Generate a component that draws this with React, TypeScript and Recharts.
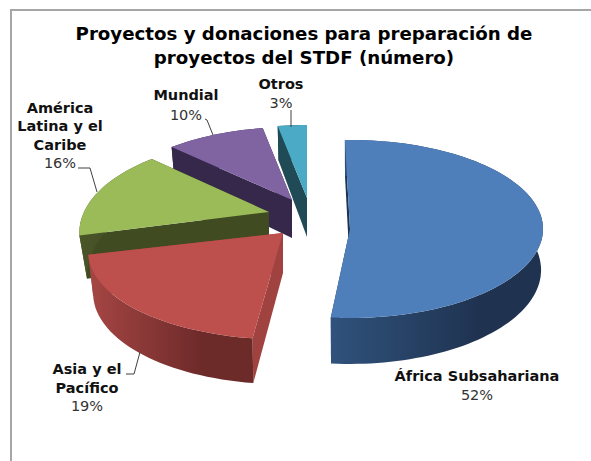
import { PieChart, Pie } from "recharts";

const WIDTH = 591;
const HEIGHT = 461;
const FONT = "'DejaVu Sans', Verdana, sans-serif";

// drawn back to front, counter-clockwise from the top, so the biggest slice lands on top
const regions = ["Otros", "Mundial", "América Latina y el Caribe", "Asia y el Pacífico", "África Subsahariana"];
const projects = [3, 10, 16, 19, 52];

const chartData = regions.map((name, i) => ({ name, value: projects[i] }));

const CX = 300;
const CY = 215;
const RADIUS = 190;

// fake 3D look per slice: explode offset from the pie centre, perspective, wall colours
const sliceLook: Record<string, any> = {
  "África Subsahariana": { dx: 50, dy: 14, rx: 193, ry: 89, k: 0, rot: -1.5, depth: 41, shrink: 0.99, face: "#4f7fbb", wall: "#1c3352", rimFrom: "#30527c", rimTo: "#1f3350" },
  "Asia y el Pacífico": { dx: -17, dy: 18, rx: 190, ry: 83, k: 0.22, rot: 0, depth: 40, shrink: 0.975, face: "#bd4f4c", wall: "#a04240", rimFrom: "#a64644", rimTo: "#6c2a29" },
  "América Latina y el Caribe": { dx: -31, dy: -3, rx: 185, ry: 89, k: 0.22, rot: 0, depth: 42, shrink: 0.96, face: "#9bbb59", wall: "#414b22", rimFrom: "#4a5528", rimTo: "#414b22" },
  Mundial: { dx: -8, dy: -15, rx: 190, ry: 89, k: 0.22, rot: 0, depth: 38, shrink: 0.975, face: "#8064a2", wall: "#35284a", rimFrom: "#35284a", rimTo: "#35284a" },
  Otros: { dx: 7, dy: -17, rx: 190, ry: 89, k: 0.22, rot: 0, depth: 39, shrink: 0.975, face: "#4babc6", wall: "#1f4a56", rimFrom: "#1f4a56", rimTo: "#1f4a56" },
};

const labelLook: Record<string, any> = {
  "África Subsahariana": { x: 477, lines: ["África Subsahariana"], y: 381, pctY: 400, leader: null },
  "Asia y el Pacífico": { x: 87, lines: ["Asia y el", "Pacífico"], y: 374, pctY: 411, leader: "126,374 134,374 140,352" },
  "América Latina y el Caribe": { x: 60, lines: ["América", "Latina y el", "Caribe"], y: 113, pctY: 168, leader: "78,168 90,168 97,192" },
  Mundial: { x: 186, lines: ["Mundial"], y: 100, pctY: 120, leader: "205,119 207,120 213,135" },
  Otros: { x: 281, lines: ["Otros"], y: 89, pctY: 108, leader: "291,110 291,127" },
};

const Slice3D = (props: any) => {
  const { cx, cy, startAngle, endAngle, name, payload } = props;
  const key = name ?? payload?.name;
  const s = sliceLook[key];
  const ax = cx + s.dx;
  const ay = cy + s.dy;

  // from a library angle to a point on the tilted rim
  const onRim = (deg: number) => {
    const rad = ((deg - s.rot) * Math.PI) / 180;
    const back = Math.sin(rad);
    const p = 1 / (1 + s.k * back);
    return { x: ax + s.rx * Math.cos(rad) * p, y: ay - s.ry * back * p, back };
  };
  const under = (pt: { x: number; y: number; back: number }) => ({
    x: ax + (pt.x - ax) * s.shrink,
    y: pt.y + s.depth * (1 - 0.12 * pt.back),
  });

  const rim = [];
  const sweep = endAngle - startAngle;
  const steps = Math.max(4, Math.ceil(Math.abs(sweep) / 2));
  for (let i = 0; i <= steps; i++) rim.push(onRim(startAngle + (sweep * i) / steps));
  const lower = rim.map(under);
  const first = rim[0];
  const last = rim[rim.length - 1];

  const toPath = (pts: { x: number; y: number }[]) =>
    "M" + pts.map((p) => `${p.x.toFixed(1)},${p.y.toFixed(1)}`).join("L") + "Z";

  const apex = { x: ax, y: ay };
  const apexLow = { x: ax, y: ay + s.depth };
  const gradId = "rim" + regions.indexOf(key);

  return (
    <g>
      <defs>
        <linearGradient id={gradId} x1="0" y1="0" x2="1" y2="0">
          <stop offset="0%" stopColor={s.rimFrom} />
          <stop offset="70%" stopColor={s.rimTo} />
          <stop offset="100%" stopColor={s.rimTo} />
        </linearGradient>
      </defs>
      <path d={toPath([apex, first, under(first), apexLow])} fill={s.wall} />
      <path d={toPath([apex, last, under(last), apexLow])} fill={s.wall} />
      <path d={toPath([...rim, ...lower.slice().reverse()])} fill={`url(#${gradId})`} />
      <path d={toPath([apex, ...rim])} fill={s.face} />
    </g>
  );
};

const SliceLabel = (props: any) => {
  const key = props.name ?? props.payload?.name;
  const l = labelLook[key];
  if (!l) return null;
  const pct = Math.round(props.percent * 100) + "%";
  const gap = l.lines.length > 1 ? (l.pctY - l.y) / l.lines.length : 0;
  return (
    <g style={{ fontFamily: FONT, fontSize: 14.5 }}>
      {l.leader && <polyline points={l.leader} fill="none" stroke="#404040" strokeWidth={1} />}
      {l.lines.map((line: string, i: number) => (
        <text key={line} x={l.x} y={l.y + i * gap} textAnchor="middle" fontWeight="bold" fill="#111">
          {line}
        </text>
      ))}
      <text x={l.x} y={l.pctY} textAnchor="middle" fill="#333">
        {pct}
      </text>
    </g>
  );
};

export default function App() {
  return (
    <div style={{ position: "absolute", left: 0, top: 0, width: WIDTH, height: HEIGHT, background: "#fff", overflow: "hidden" }}>
      <div
        style={{
          position: "absolute",
          left: 10,
          top: 9,
          width: WIDTH,
          height: HEIGHT,
          borderLeft: "2px solid #a6a6a6",
          borderTop: "2px solid #a6a6a6",
        }}
      />
      <PieChart width={WIDTH} height={HEIGHT} margin={{ top: 0, right: 0, bottom: 0, left: 0 }} style={{ position: "absolute", left: 0, top: 0 }}>
        <Pie
          data={chartData}
          dataKey="value"
          nameKey="name"
          cx={CX}
          cy={CY}
          outerRadius={RADIUS}
          startAngle={90}
          endAngle={450}
          paddingAngle={0}
          stroke="none"
          shape={Slice3D}
          label={SliceLabel}
          labelLine={false}
          isAnimationActive={false}
        />
      </PieChart>
      <div
        style={{
          position: "absolute",
          left: 0,
          top: 22,
          width: 608,
          textAlign: "center",
          fontFamily: FONT,
          fontWeight: "bold",
          fontSize: 18.2,
          lineHeight: "24px",
          color: "#000",
        }}
      >
        Proyectos y donaciones para preparación de
        <br />
        proyectos del STDF (número)
      </div>
    </div>
  );
}
